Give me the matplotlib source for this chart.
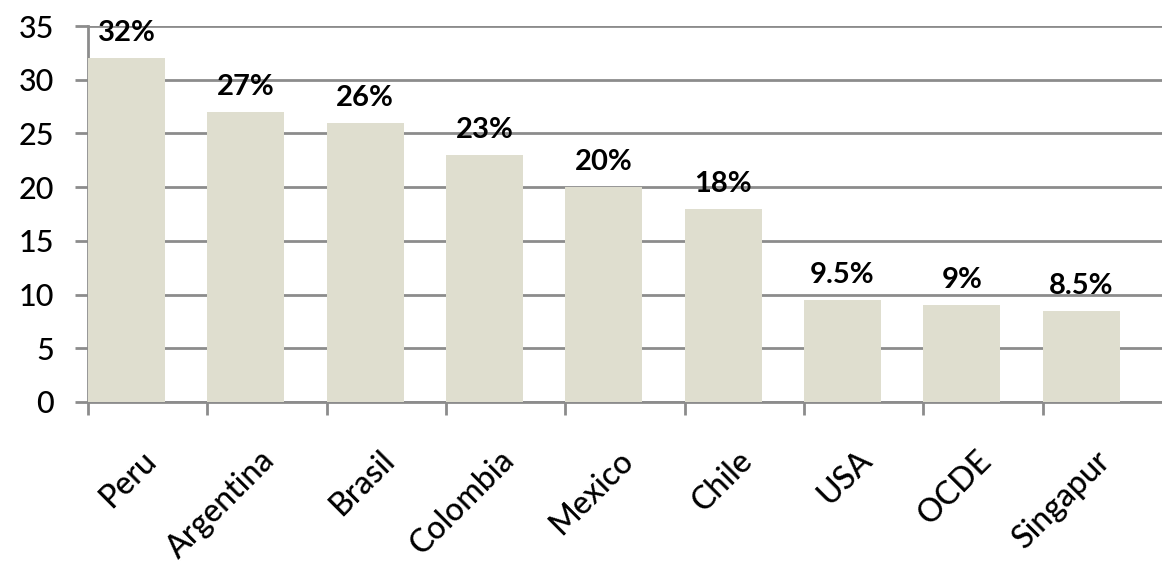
import matplotlib.pyplot as plt
import numpy as np

countries = ['Peru', 'Argentina', 'Brasil', 'Colombia', 'Mexico', 'Chile', 'USA', 'OCDE', 'Singapur']
values = [32, 27, 26, 23, 20, 18, 9.5, 9, 8.5]
labels = ['32%', '27%', '26%', '23%', '20%', '18%', '9.5%', '9%', '8.5%']

plt.rcParams['font.family'] = ['Lato', 'DejaVu Sans']

fig = plt.figure(figsize=(11.62, 5.66), dpi=100)
ax = fig.add_axes([0.0757, 0.2898, 0.9243, 0.6642])

grid_col = '#8c8c8c'
x = np.arange(len(countries))
bars = ax.bar(x, values, width=0.645, align='edge', color='#dfdecf', zorder=3)

for rect, lab in zip(bars, labels):
    ax.annotate(lab, (rect.get_x() + rect.get_width() / 2, rect.get_height()),
                xytext=(0, 12), textcoords='offset pixels', ha='center', va='bottom',
                fontsize=21, fontweight='bold', color='black', zorder=4,
                annotation_clip=False)

ax.set_xlim(0, len(countries))
ax.set_ylim(0, 35)
ax.set_yticks(range(0, 36, 5))
ax.yaxis.grid(True, color=grid_col, linewidth=2, zorder=0)
ax.set_axisbelow(True)

# ticks on category boundaries, labels near the middle
ax.set_xticks(np.arange(len(countries)))
ax.set_xticklabels([])
ax.set_xticks(x + 0.44, minor=True)
ax.set_xticklabels(countries, minor=True, rotation=45, ha='right', va='top',
                   rotation_mode='anchor', fontsize=23, fontweight='medium')
ax.tick_params(axis='x', which='minor', length=0, pad=31)
ax.tick_params(axis='x', which='major', length=9.5, width=2, color=grid_col)
ax.tick_params(axis='y', length=9.5, width=2, color=grid_col, labelsize=22, pad=15)
for t in ax.get_yticklabels():
    t.set_fontweight('medium')

for s in ['top', 'right']:
    ax.spines[s].set_visible(False)
for s in ['left', 'bottom']:
    ax.spines[s].set_color(grid_col)
    ax.spines[s].set_linewidth(2)

fig.savefig('out.png', dpi=100)
